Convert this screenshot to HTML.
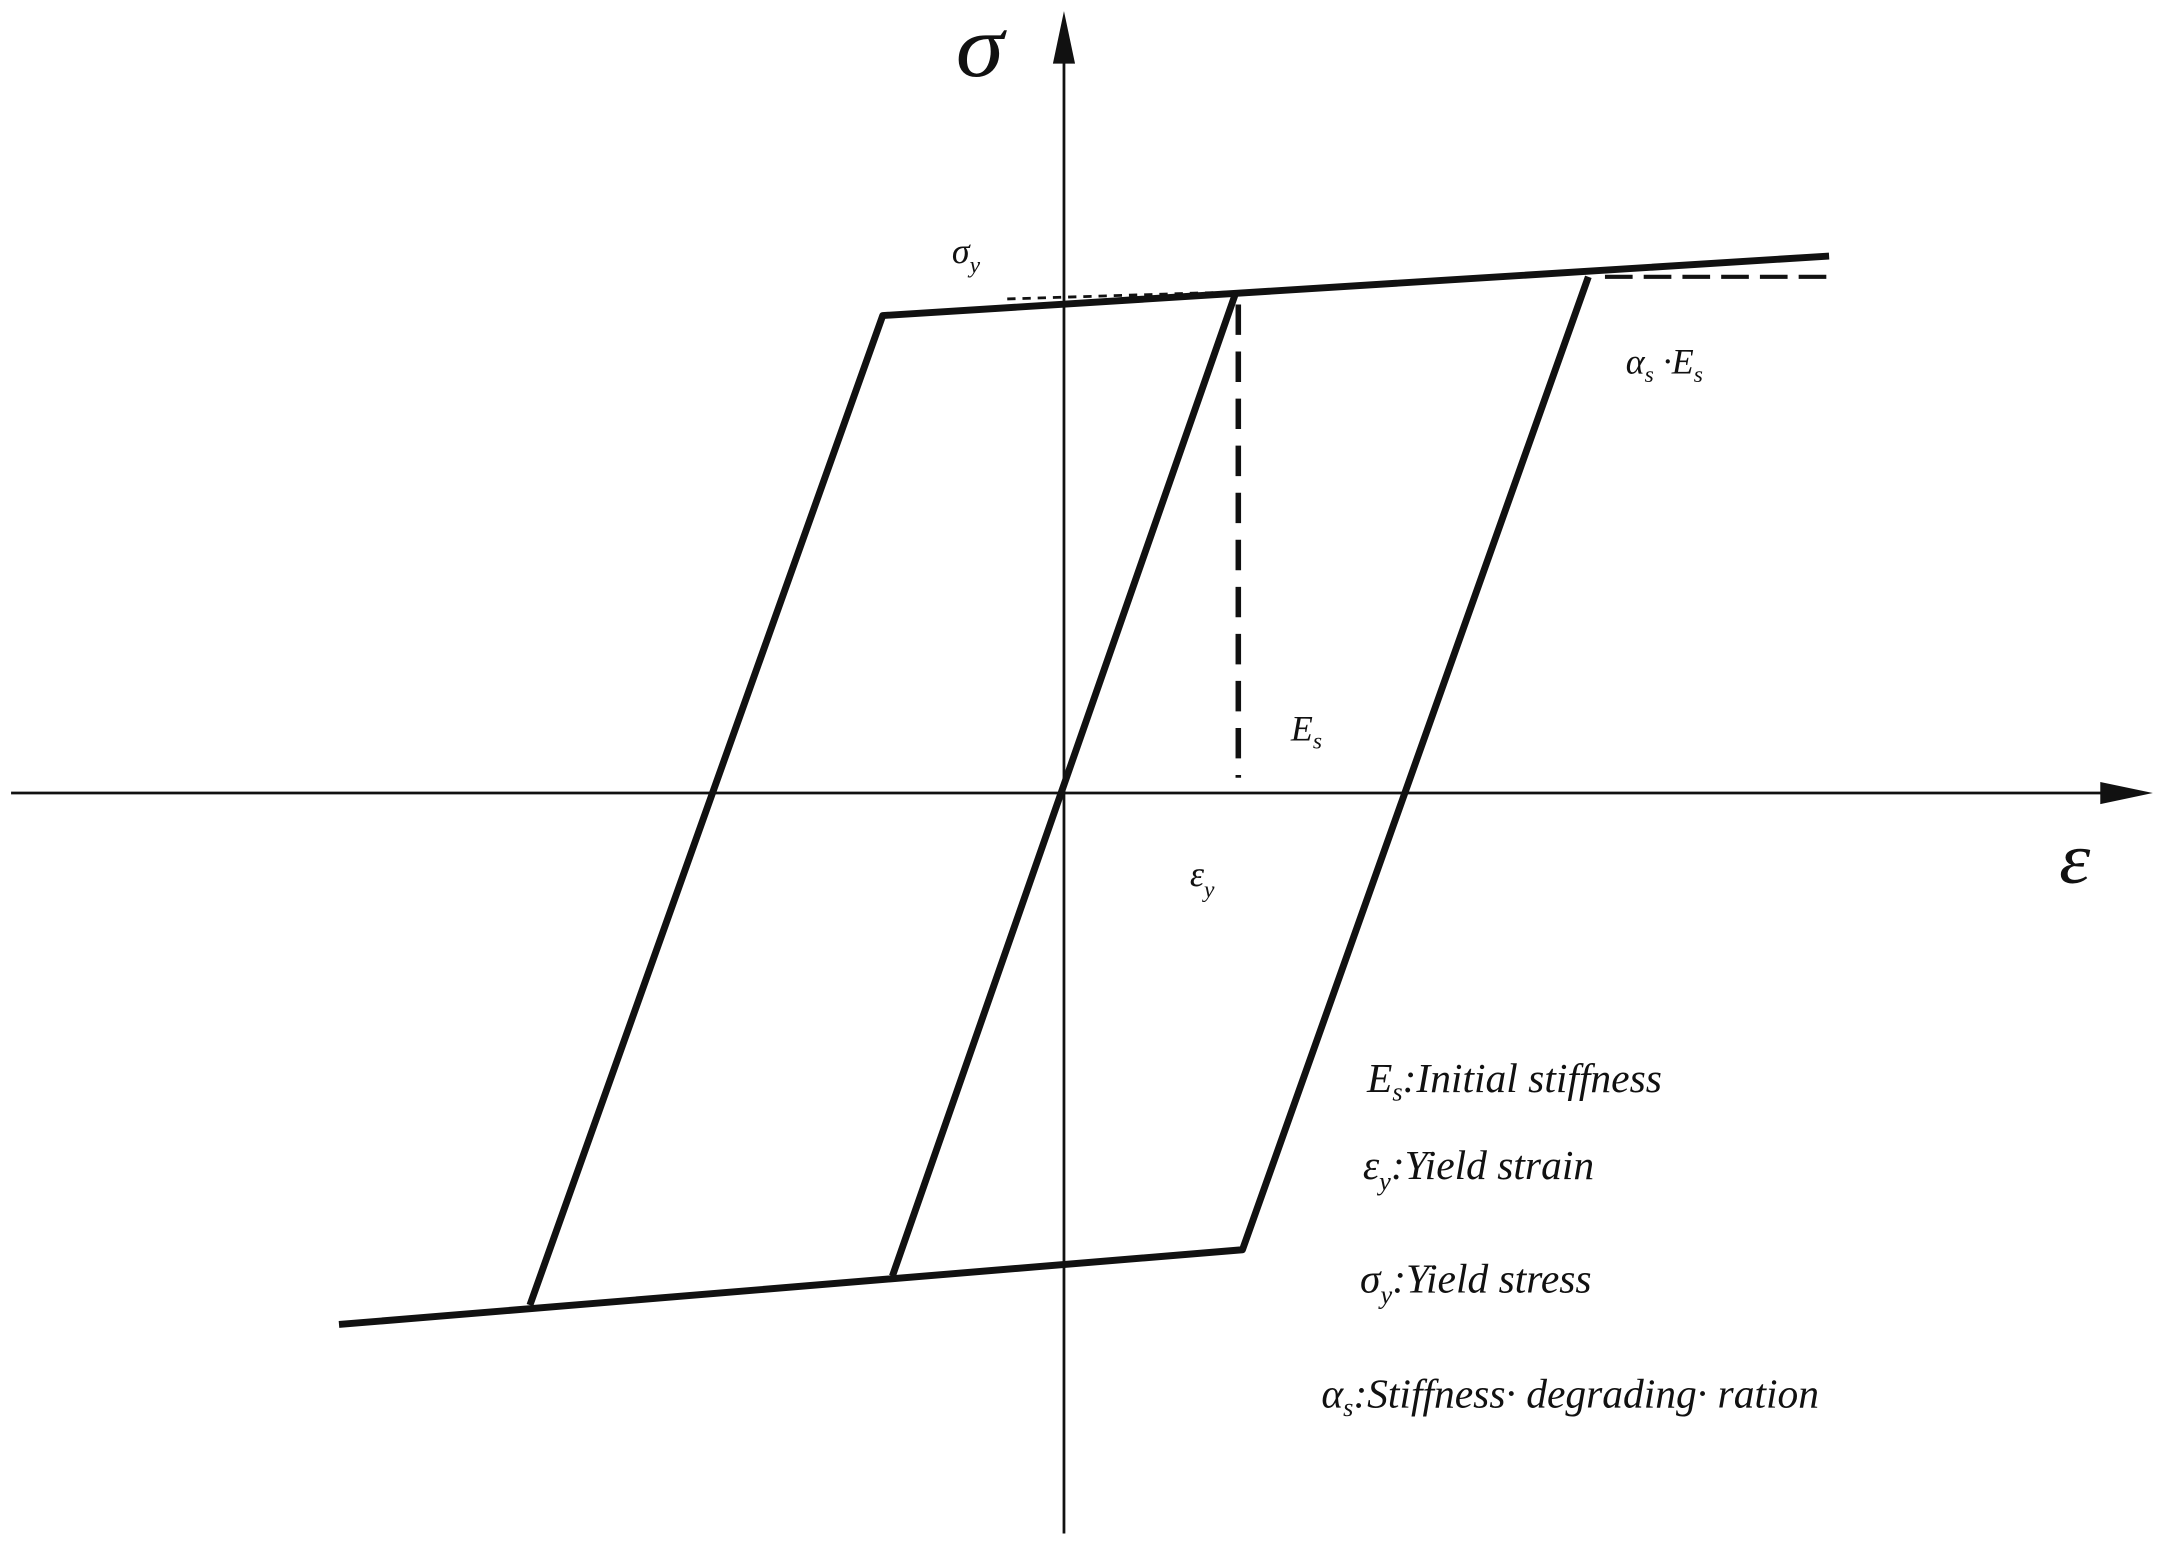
<!DOCTYPE html>
<html><head><meta charset="utf-8"><style>
html,body{margin:0;padding:0;background:#fff;}
svg{display:block;}
text{font-family:"Liberation Serif",serif;font-style:italic;fill:#111;}
</style></head><body>
<svg width="2157" height="1557" viewBox="0 0 1559 1125" preserveAspectRatio="none" xmlns="http://www.w3.org/2000/svg">
<rect width="1559" height="1125" fill="#fff"/>
<line x1="769" y1="30" x2="769" y2="1108" stroke="#111" stroke-width="2"/>
<polygon points="769,8 761,46 777,46" fill="#111"/>
<line x1="8" y1="573" x2="1525" y2="573" stroke="#111" stroke-width="2"/>
<polygon points="1556,573 1518,565 1518,581" fill="#111"/>
<g stroke="#111" stroke-width="5" fill="none" stroke-linejoin="round">
<polyline points="1322,185 638,228 383,943"/>
<line x1="893" y1="212" x2="645" y2="922"/>
<polyline points="1148,200 898,903 245,957"/>
</g>
<line x1="895" y1="220" x2="895" y2="562" stroke="#111" stroke-width="4" stroke-dasharray="22,12"/>
<line x1="1160" y1="200" x2="1325" y2="200" stroke="#111" stroke-width="3" stroke-dasharray="20,8"/>
<line x1="728" y1="216" x2="890" y2="211" stroke="#111" stroke-width="2" stroke-dasharray="6,5"/>
<text x="694" y="55" font-size="64" transform="scale(1.1,1) translate(-66,0)">σ</text>
<text x="1493" y="638" font-size="52" transform="scale(1.1,1) translate(-140,0)">ε</text>
<text x="688" y="190" font-size="26">σ<tspan font-size="17" dy="7">y</tspan></text>
<text x="1175" y="270" font-size="26">α<tspan font-size="17" dy="6">s</tspan><tspan dy="-6"> ·E</tspan><tspan font-size="17" dy="6">s</tspan></text>
<text x="933" y="535" font-size="26">E<tspan font-size="17" dy="6">s</tspan></text>
<text x="860" y="640" font-size="26">ε<tspan font-size="17" dy="8">y</tspan></text>
<text x="988" y="789" font-size="30">E<tspan font-size="19" dy="6">s</tspan><tspan dy="-6">:Initial stiffness</tspan></text>
<text x="985" y="852" font-size="30">ε<tspan font-size="19" dy="8">y</tspan><tspan dy="-8">:Yield strain</tspan></text>
<text x="983" y="934" font-size="30">σ<tspan font-size="19" dy="8">y</tspan><tspan dy="-8">:Yield stress</tspan></text>
<text x="955" y="1017" font-size="30">α<tspan font-size="19" dy="6">s</tspan><tspan dy="-6">:Stiffness· degrading· ration</tspan></text>
</svg>
</body></html>
